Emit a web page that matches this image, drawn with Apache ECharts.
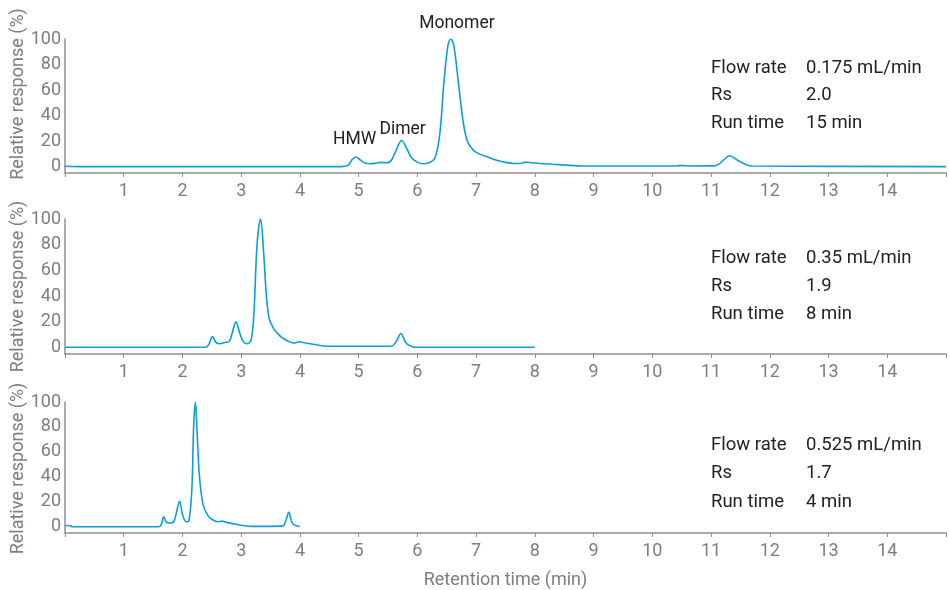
<!DOCTYPE html>
<html><head><meta charset="utf-8">
<script src="https://cdn.jsdelivr.net/npm/echarts@6/dist/echarts.min.js"></script>
<style>html,body{margin:0;padding:0;background:#fff}#c{width:949px;height:590px}</style>
</head><body><div id="c"></div>
<script>
// Panel 1: 0.175 mL/min
const t1 = [0,0.3,4.7,4.82,4.88,4.95,5.02,5.1,5.2,5.3,5.38,5.47,5.55,5.63,5.73,5.82,5.9,6.0,6.1,6.2,6.3,6.38,6.45,6.52,6.57,6.62,6.7,6.78,6.85,6.95,7.05,7.2,7.35,7.5,7.65,7.75,7.85,7.95,8.1,8.3,8.6,8.8,10.4,10.45,10.55,10.6,11.05,11.15,11.32,11.45,11.6,11.7,15];
const y1 = [0.3,0,0,1,5,7.5,5.5,3,2.2,2.8,3.3,3,4.5,12,20.5,14,7,3.5,2.2,3,7,25,65,95,100,95,65,35,20,13,10,7.5,5,3.3,2.5,2.5,3.5,3,2.5,1.8,1,0.5,0.5,0.8,0.8,0.5,0.6,2.5,8.5,5,1.5,0.5,0];
// Panel 2: 0.35 mL/min
const t2 = [0,2.4,2.45,2.51,2.57,2.63,2.72,2.8,2.85,2.91,2.97,3.03,3.1,3.17,3.22,3.27,3.33,3.38,3.43,3.48,3.55,3.62,3.7,3.8,3.9,3.98,4.1,4.3,4.45,5.55,5.63,5.72,5.8,5.87,5.95,8];
const y2 = [0.3,0.3,2.5,8.5,4,3,4,5,12,20,12,5,3,6,30,80,100,75,40,22,15,11,7.5,5,3.5,4.5,3.5,2,1,1,4,11,4,1.5,0.3,0.3];
// Panel 3: 0.525 mL/min
const t3 = [0,0.05,0.1,0.12,1.6,1.64,1.68,1.72,1.77,1.85,1.9,1.95,2.0,2.06,2.11,2.16,2.19,2.22,2.25,2.29,2.35,2.42,2.5,2.6,2.67,2.75,2.85,3.0,3.2,3.7,3.76,3.81,3.86,3.9,4.0];
const y3 = [0.8,1,0.8,0,0,2,8,4,3,4,12,20.5,10,4,5,30,80,100,75,40,18,10,6,4,4.5,3.5,2.5,1.2,0.3,0.5,5,11.5,4,1.5,0.2];
const xTicks = [1,2,3,4,5,6,7,8,9,10,11,12,13,14];
const yTicks = [0,20,40,60,80,100];
const annotations = [["Monomer",6.57,100],["Dimer",5.73,20.5],["HMW",4.93,7.5]];
const infoLabels = ["Flow rate","Rs","Run time"];
const infoValues = [["0.175 mL/min","2.0","15 min"],["0.35 mL/min","1.9","8 min"],["0.525 mL/min","1.7","4 min"]];

const FONT = 'Roboto';
const GRAY = '#7b7e82';
const LINE = '#0a9fdc';
const FS = 18.5;
const grids = [{top:39,height:134},{top:219,height:135},{top:402,height:133}];
const chart = echarts.init(document.getElementById('c'));
const pair = (t,y)=>t.map((v,i)=>[v,y[i]]);
const series = [pair(t1,y1),pair(t2,y2),pair(t3,y3)];

const option = {
  animation:false,
  grid: grids.map(g=>({left:65,right:0,top:g.top,height:g.height})),
  xAxis: grids.map((g,i)=>({
    type:'value',gridIndex:i,min:0,max:15,interval:1,
    axisLine:{show:true,onZero:false,lineStyle:{color:'#8c8f92',width:1.5}},
    axisTick:{show:true,length:4,lineStyle:{color:'#8c8f92'}},
    splitLine:{show:false},
    axisLabel:{color:GRAY,fontFamily:FONT,fontSize:18,margin:9,
      formatter:v=>xTicks.indexOf(v)>=0?String(v):''},
    name: i===2?'Retention time (min)':'',
    nameLocation:'middle',nameGap:38,
    nameTextStyle:{color:GRAY,fontFamily:FONT,fontSize:18}
  })),
  yAxis: grids.map((g,i)=>({
    type:'value',gridIndex:i,min:-5,max:100,interval:5,
    axisLine:{show:true,lineStyle:{color:'#8c8f92',width:1.5}},
    axisTick:{show:false},splitLine:{show:false},
    axisLabel:{color:GRAY,fontFamily:FONT,fontSize:18,margin:4,
      formatter:v=>yTicks.indexOf(v)>=0?String(v):''}
  })),
  series: series.map((d,i)=>({
    type:'line',xAxisIndex:i,yAxisIndex:i,data:d,smooth:0.35,showSymbol:false,
    lineStyle:{color:LINE,width:1.6}
  })),
  graphic: []
};
// y axis titles
grids.forEach((g,i)=>{
  option.graphic.push({type:'text',rotation:Math.PI/2,x:18,y:(i===0?94:g.top+g.height/2),
    style:{text:'Relative response (%)',fill:GRAY,font:'18px '+FONT,textAlign:'center',textVerticalAlign:'middle'}});
});
// info text
const infoTop = [68,258,445];
const rowGap = [27.5,28,28.5];
infoValues.forEach((vals,i)=>{
  infoLabels.forEach((lab,j)=>{
    const y = infoTop[i]+j*rowGap[i];
    option.graphic.push({type:'text',x:711,y:y,style:{text:lab,fill:'#222',font:FS+'px '+FONT,textVerticalAlign:'middle'}});
    option.graphic.push({type:'text',x:806,y:y,style:{text:vals[j],fill:'#222',font:FS+'px '+FONT,textVerticalAlign:'middle'}});
  });
});
chart.setOption(option);
// peak annotations placed via the axis scales
const annOffset = {Monomer:[6,-15],Dimer:[1,-11],HMW:[0,-17]};
const extra = annotations.map(a=>{
  const p = chart.convertToPixel({gridIndex:0},[a[1],a[2]]);
  const o = annOffset[a[0]];
  return {type:'text',x:p[0]+o[0],y:p[1]+o[1],
    style:{text:a[0],fill:'#222',font:'17.5px '+FONT,textAlign:'center',textVerticalAlign:'middle'}};
});
chart.setOption({graphic: option.graphic.concat(extra)});
</script></body></html>
